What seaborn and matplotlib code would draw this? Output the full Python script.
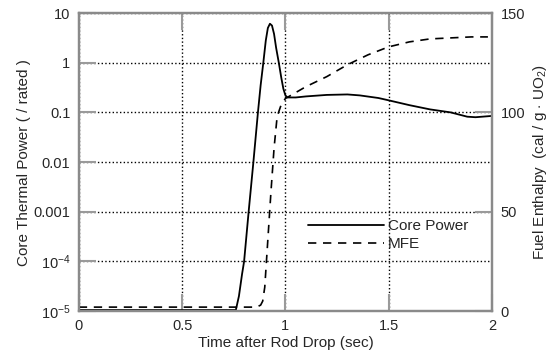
import numpy as np
import pandas as pd
import seaborn as sns
import matplotlib.pyplot as plt
from matplotlib.lines import Line2D

# Core power (relative to rated)
power_t = [0.0, 0.5, 0.76, 0.775, 0.79, 0.80, 0.822, 0.845, 0.867, 0.88, 0.893, 0.905,
           0.915, 0.925, 0.935, 0.945, 0.955, 0.968, 0.98, 0.99, 1.0, 1.01, 1.05,
           1.1, 1.2, 1.3, 1.36, 1.45, 1.5, 1.6, 1.7, 1.8, 1.88, 1.92, 2.0]
power_val = [1.05e-5, 1.05e-5, 1.05e-5, 2.0e-5, 5.5e-5, 1.0e-4, 1.0e-3, 1.0e-2, 0.1, 0.35, 1.0, 2.8,
             5.0, 6.1, 5.6, 3.8, 2.0, 1.0, 0.5, 0.3, 0.22, 0.2, 0.2,
             0.21, 0.225, 0.23, 0.22, 0.195, 0.175, 0.14, 0.115, 0.1, 0.082, 0.08, 0.085]

# Maximum fuel enthalpy (cal/g-UO2)
mfe_t = [0.0, 0.5, 0.86, 0.88, 0.89, 0.90, 0.915, 0.93, 0.945, 0.96, 0.98, 1.0, 1.05,
         1.1, 1.2, 1.3, 1.4, 1.5, 1.6, 1.7, 1.8, 1.9, 1.98]
mfe_val = [2, 2, 2, 3, 5, 12, 36, 60, 82, 98, 104, 107, 110,
           113, 118, 124, 129, 133, 135.5, 137, 137.5, 138, 138]

power_df = pd.DataFrame({'t': power_t, 'p': power_val})
mfe_df = pd.DataFrame({'t': mfe_t, 'h': mfe_val})

sns.set_style('ticks')
plt.rcParams['font.family'] = ['Liberation Sans', 'DejaVu Sans']
plt.rcParams['mathtext.fontset'] = 'custom'
plt.rcParams['mathtext.rm'] = 'Liberation Sans'
plt.rcParams['mathtext.it'] = 'Liberation Sans:italic'

fig = plt.figure(figsize=(5.51, 3.63), dpi=100)
ax = fig.add_axes([0.143, 0.143, 0.750, 0.821])
ax2 = ax.twinx()

sns.lineplot(data=power_df, x='t', y='p', ax=ax, color='black', lw=1.3, sort=False)
sns.lineplot(data=mfe_df, x='t', y='h', ax=ax2, color='black', lw=1.2,
             linestyle=(0, (5, 4)), sort=False)

ax.set_yscale('log')
ax.set_xlim(0, 2)
ax.set_ylim(1e-5, 10)
ax2.set_ylim(0, 150)

decades = [1e-5, 1e-4, 1e-3, 1e-2, 0.1, 1, 10]
decade_labels = ['$10^{-5}$', '$10^{-4}$', '0.001', '0.01', '0.1', '1', '10']
ax.set_yticks(decades)
ax.set_yticklabels(decade_labels)
ax.yaxis.set_minor_locator(plt.NullLocator())
ax.set_xticks([0, 0.5, 1, 1.5, 2])
ax.set_xticklabels(['0', '0.5', '1', '1.5', '2'])
ax2.set_yticks([0, 50, 100, 150])

ax.grid(True, which='major', linestyle=':', color='black', lw=1.0)

for a in (ax, ax2):
    for s in a.spines.values():
        s.set_color('#8a8a8a')
        s.set_linewidth(1.6)
ax.tick_params(axis='both', direction='in', length=12, width=1.5, color='#9a9a9a',
               labelsize=10.5, top=True, pad=6)
ax.tick_params(axis='y', right=False)
ax2.tick_params(axis='y', direction='in', length=12, width=1.5, color='#9a9a9a',
                labelsize=10.5, pad=6)

ax.set_xlabel('Time after Rod Drop (sec)', fontsize=11, labelpad=2)
ax.set_ylabel('Core Thermal Power ( / rated )', fontsize=11, labelpad=2)
ax2.set_ylabel('Fuel Enthalpy  (cal / g $\\cdot$ UO$_2$)', fontsize=11, labelpad=4)

if ax.get_legend() is not None:
    ax.get_legend().remove()
if ax2.get_legend() is not None:
    ax2.get_legend().remove()
handles = [Line2D([], [], color='black', lw=1.3),
           Line2D([], [], color='black', lw=1.2, linestyle=(0, (5, 4)))]
ax2.legend(handles, ['Core Power', 'MFE'], loc='upper left', bbox_to_anchor=(0.54, 0.33),
           frameon=False, fontsize=11, handlelength=5.0, handletextpad=0.2,
           labelspacing=0.3, borderaxespad=0)

fig.savefig('out.png', dpi=100)
